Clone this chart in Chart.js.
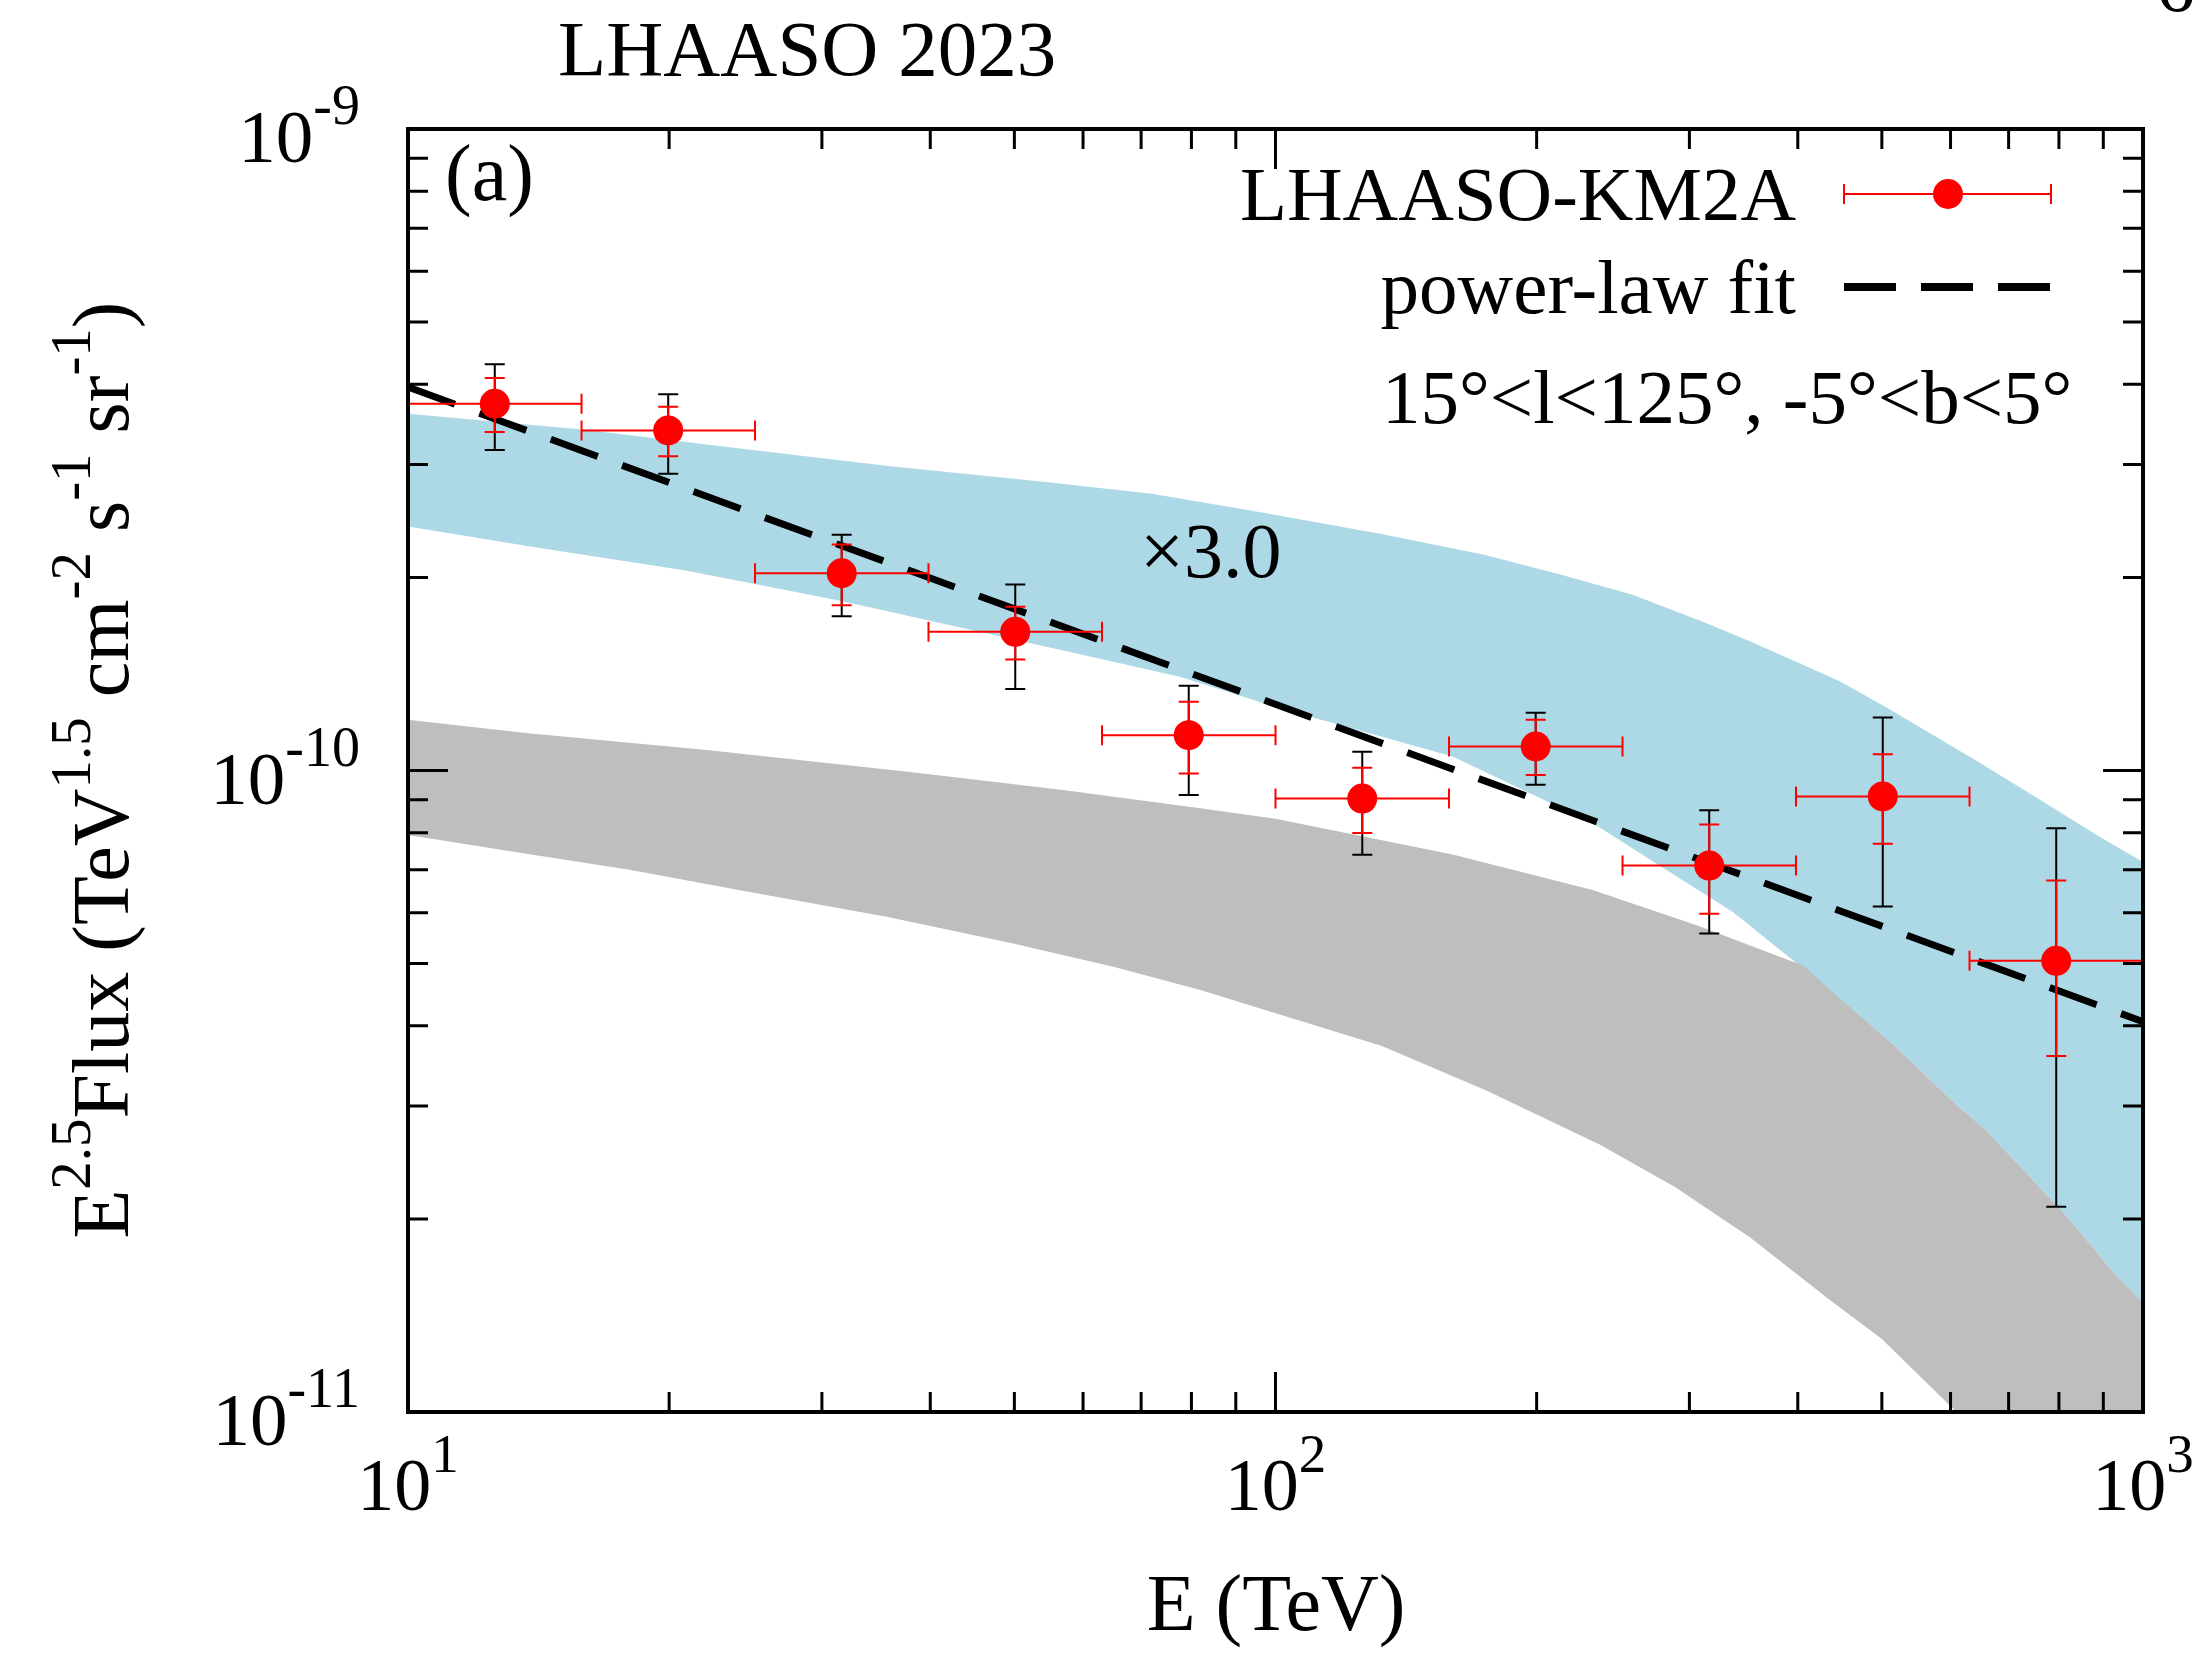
<!DOCTYPE html>
<html>
<head>
<meta charset="utf-8">
<script src="https://cdn.jsdelivr.net/npm/chart.js@4.4.1/dist/chart.umd.min.js"></script>
<style>
  html, body { margin: 0; padding: 0; background: #ffffff; }
  #wrap { width: 2203px; height: 1656px; position: relative; }
</style>
</head>
<body>
<div id="wrap"><canvas id="c" width="2203" height="1656"></canvas></div>
<script>
// ---- LHAASO-KM2A diffuse emission, E^2.5 weighted flux ----
const E_CENTER = [12.59, 19.95, 31.62, 50.12, 79.43, 125.9, 199.5, 316.2, 501.2, 794.3];
const BIN_LO   = [10.0, 15.85, 25.12, 39.81, 63.10, 100.0, 158.5, 251.2, 398.1, 631.0];
const BIN_HI   = [15.85, 25.12, 39.81, 63.10, 100.0, 158.5, 251.2, 398.1, 631.0, 1000.0];
const FLUX     = [3.73e-10, 3.39e-10, 2.03e-10, 1.645e-10, 1.135e-10, 9.04e-11, 1.09e-10, 7.11e-11, 9.11e-11, 5.05e-11];
const STAT_LO  = [3.37e-10, 3.09e-10, 1.81e-10, 1.49e-10, 9.89e-11, 7.99e-11, 9.84e-11, 5.98e-11, 7.69e-11, 3.59e-11];
const STAT_HI  = [4.09e-10, 3.69e-10, 2.25e-10, 1.80e-10, 1.28e-10, 1.01e-10, 1.20e-10, 8.24e-11, 1.06e-10, 6.74e-11];
const TOT_LO   = [3.16e-10, 2.90e-10, 1.74e-10, 1.34e-10, 9.16e-11, 7.39e-11, 9.50e-11, 5.57e-11, 6.14e-11, 2.09e-11];
const TOT_HI   = [4.30e-10, 3.86e-10, 2.33e-10, 1.95e-10, 1.356e-10, 1.07e-10, 1.23e-10, 8.67e-11, 1.21e-10, 8.13e-11];

// power-law fit end points
const FIT_E = [10, 1000];
const FIT_F = [3.96e-10, 4.06e-11];

// model band scaled by x3.0 (light blue)
const BLUE_E_UP = [10, 15.9, 24, 36, 54, 72, 94, 132, 174, 213, 258, 313, 356, 446, 508, 647, 751, 889, 1000];
const BLUE_UP   = [3.60e-10, 3.40e-10, 3.18e-10, 2.98e-10, 2.82e-10, 2.70e-10, 2.54e-10, 2.34e-10, 2.17e-10, 2.02e-10,
                   1.88e-10, 1.70e-10, 1.58e-10, 1.38e-10, 1.25e-10, 1.03e-10, 9.1e-11, 7.9e-11, 7.2e-11];
const BLUE_E_LO = [10, 13.95, 20.9, 31.4, 47.1, 77.6, 100, 160, 232, 280, 337, 421, 517.6, 602, 659, 710, 811, 926, 1000];
const BLUE_LO   = [2.40e-10, 2.23e-10, 2.05e-10, 1.84e-10, 1.63e-10, 1.40e-10, 1.256e-10, 1.052e-10, 8.28e-11, 7.05e-11,
                   6.01e-11, 4.72e-11, 3.72e-11, 3.06e-11, 2.75e-11, 2.47e-11, 2.04e-11, 1.645e-11, 1.48e-11];

// unscaled model band (grey)
const GRAY_E_UP = [10, 13.75, 22.1, 37.9, 56.9, 81.9, 100, 160, 232, 307, 406, 445.5, 517.6, 602, 659, 710, 811, 926, 1000];
const GRAY_UP   = [1.20e-10, 1.143e-10, 1.076e-10, 9.95e-11, 9.32e-11, 8.73e-11, 8.41e-11, 7.40e-11, 6.51e-11, 5.73e-11,
                   4.96e-11, 4.43e-11, 3.72e-11, 3.06e-11, 2.75e-11, 2.47e-11, 2.04e-11, 1.645e-11, 1.48e-11];
const GRAY_E_LO = [10, 13.75, 18, 25.3, 35.5, 49.7, 65.2, 81.9, 132.6, 175, 236.7, 289, 352.5, 434, 500, 596, 1000];
const GRAY_LO   = [7.93e-11, 7.41e-11, 7.0e-11, 6.43e-11, 5.92e-11, 5.38e-11, 4.94e-11, 4.55e-11, 3.72e-11, 3.17e-11,
                   2.61e-11, 2.24e-11, 1.87e-11, 1.50e-11, 1.30e-11, 1.03e-11, 5.3e-12];

// axis tick labels (mantissa, exponent)
const X_TICKS = [[10, '1'], [100, '2'], [1000, '3']];
const Y_TICKS = [[1e-9, '-9'], [1e-10, '-10'], [1e-11, '-11']];

const SERIF = "'Liberation Serif', 'Times New Roman', serif";
const pts = (xa, ya) => xa.map((x, i) => ({ x: x, y: ya[i] }));
const NOLINE = 'rgba(0,0,0,0)';

// draws a run of text pieces, some raised as superscripts
function richText(ctx, parts, x, y, align) {
  let total = 0;
  for (const p of parts) { ctx.font = p.size + 'px ' + SERIF; p.w = ctx.measureText(p.t).width; total += p.w; }
  let cx = align === 'center' ? x - total / 2 : align === 'right' ? x - total : x;
  ctx.textAlign = 'left';
  ctx.textBaseline = 'alphabetic';
  for (const p of parts) {
    ctx.font = p.size + 'px ' + SERIF;
    ctx.fillText(p.t, cx, y - (p.raise || 0));
    cx += p.w;
  }
}

const decor = {
  id: 'decor',
  beforeDatasetDraw(chart, args) {
    if (args.index !== 0) return;
    const ctx = chart.ctx, xs = chart.scales.x, ys = chart.scales.y;
    const cap = 10;
    ctx.save();
    ctx.lineWidth = 2;
    ctx.lineCap = 'butt';
    for (let i = 0; i < E_CENTER.length; i++) {
      const x = xs.getPixelForValue(E_CENTER[i]);
      const y = ys.getPixelForValue(FLUX[i]);
      // total uncertainty (black)
      const t1 = ys.getPixelForValue(TOT_HI[i]), t2 = ys.getPixelForValue(TOT_LO[i]);
      ctx.strokeStyle = '#000000';
      ctx.beginPath();
      ctx.moveTo(x, t1); ctx.lineTo(x, t2);
      ctx.moveTo(x - cap, t1); ctx.lineTo(x + cap, t1);
      ctx.moveTo(x - cap, t2); ctx.lineTo(x + cap, t2);
      ctx.stroke();
      // statistical uncertainty and energy bin (red)
      const s1 = ys.getPixelForValue(STAT_HI[i]), s2 = ys.getPixelForValue(STAT_LO[i]);
      const b1 = xs.getPixelForValue(BIN_LO[i]), b2 = xs.getPixelForValue(BIN_HI[i]);
      ctx.strokeStyle = '#ff0000';
      ctx.beginPath();
      ctx.moveTo(x, s1); ctx.lineTo(x, s2);
      ctx.moveTo(x - cap, s1); ctx.lineTo(x + cap, s1);
      ctx.moveTo(x - cap, s2); ctx.lineTo(x + cap, s2);
      ctx.moveTo(b1, y); ctx.lineTo(b2, y);
      ctx.moveTo(b1, y - cap); ctx.lineTo(b1, y + cap);
      ctx.moveTo(b2, y - cap); ctx.lineTo(b2, y + cap);
      ctx.stroke();
    }
    ctx.restore();
  },
  afterDatasetsDraw(chart) {
    const ctx = chart.ctx, xs = chart.scales.x, ys = chart.scales.y, a = chart.chartArea;
    ctx.save();
    // tick marks on all four sides, pointing inwards
    ctx.strokeStyle = '#000000';
    ctx.lineWidth = 3;
    ctx.beginPath();
    for (let d = 10; d <= 1000; d *= 10) {
      for (let m = 1; m <= 9; m++) {
        const v = m * d;
        if (v > 1000) break;
        const len = m === 1 ? 40 : 20;
        const px = xs.getPixelForValue(v);
        ctx.moveTo(px, a.bottom); ctx.lineTo(px, a.bottom - len);
        ctx.moveTo(px, a.top); ctx.lineTo(px, a.top + len);
      }
    }
    for (let e = -11; e <= -9; e++) {
      for (let m = 1; m <= 9; m++) {
        const v = m * Math.pow(10, e);
        if (e === -9 && m > 1) break;
        const len = m === 1 ? 40 : 20;
        const py = ys.getPixelForValue(v);
        ctx.moveTo(a.left, py); ctx.lineTo(a.left + len, py);
        ctx.moveTo(a.right, py); ctx.lineTo(a.right - len, py);
      }
    }
    ctx.stroke();
    // frame
    ctx.lineWidth = 4;
    ctx.strokeRect(a.left, a.top, a.right - a.left, a.bottom - a.top);
    ctx.restore();
  },
  afterDraw(chart) {
    const ctx = chart.ctx, xs = chart.scales.x, ys = chart.scales.y;
    ctx.save();
    ctx.fillStyle = '#000000';
    // tick labels
    for (const [v, ex] of X_TICKS) {
      richText(ctx, [{ t: '10', size: 74 }, { t: ex, size: 55, raise: 38 }], xs.getPixelForValue(v), 1510, 'center');
    }
    for (const [v, ex] of Y_TICKS) {
      const py = ys.getPixelForValue(v);
      richText(ctx, [{ t: '10', size: 75 }, { t: ex, size: 56, raise: 38 }], 360, py + 33, 'right');
    }
    // axis titles
    ctx.font = '80px ' + SERIF;
    ctx.textAlign = 'center';
    ctx.fillText('E (TeV)', 1276, 1630);
    ctx.save();
    ctx.translate(128, 770);
    ctx.rotate(-Math.PI / 2);
    richText(ctx, [
      { t: 'E', size: 80 }, { t: '2.5', size: 57, raise: 38 },
      { t: 'Flux (TeV', size: 80 }, { t: '1.5', size: 57, raise: 38 },
      { t: ' cm', size: 80 }, { t: '-2', size: 57, raise: 38 },
      { t: ' s', size: 80 }, { t: '-1', size: 57, raise: 38 },
      { t: ' sr', size: 80 }, { t: '-1', size: 57, raise: 38 },
      { t: ')', size: 80 }
    ], 0, 0, 'center');
    ctx.restore();
    // headline and panel labels
    ctx.textAlign = 'left';
    ctx.font = '79px ' + SERIF;
    ctx.fillText('LHAASO 2023', 558, 75);
    ctx.font = '80px ' + SERIF;
    ctx.fillText('(a)', 445, 200);
    ctx.font = '78px ' + SERIF;
    ctx.fillText('\u00d73.0', 1140, 577);
    ctx.fillText('6', 2156, 11);
    // key
    ctx.font = '77px ' + SERIF;
    ctx.textAlign = 'right';
    ctx.fillText('LHAASO-KM2A', 1796, 220);
    ctx.fillText('power-law fit', 1796, 313);
    ctx.textAlign = 'left';
    ctx.fillText('15\u00b0<l<125\u00b0, -5\u00b0<b<5\u00b0', 1382, 423);
    ctx.strokeStyle = '#ff0000';
    ctx.lineWidth = 2;
    ctx.beginPath();
    ctx.moveTo(1844, 194); ctx.lineTo(2051, 194);
    ctx.moveTo(1844, 184); ctx.lineTo(1844, 204);
    ctx.moveTo(2051, 184); ctx.lineTo(2051, 204);
    ctx.stroke();
    ctx.fillStyle = '#ff0000';
    ctx.beginPath();
    ctx.arc(1948, 194, 15, 0, Math.PI * 2);
    ctx.fill();
    ctx.strokeStyle = '#000000';
    ctx.lineWidth = 8;
    ctx.setLineDash([52, 25]);
    ctx.beginPath();
    ctx.moveTo(1844, 287); ctx.lineTo(2051, 287);
    ctx.stroke();
    ctx.restore();
  }
};

new Chart(document.getElementById('c'), {
  type: 'line',
  data: {
    datasets: [
      { label: 'LHAASO-KM2A', data: pts(E_CENTER, FLUX), showLine: false,
        pointRadius: 15, pointHoverRadius: 15, pointBackgroundColor: '#ff0000', pointBorderWidth: 0,
        pointBorderColor: '#ff0000', borderColor: NOLINE, borderWidth: 0, fill: false },
      { label: 'power-law fit', data: pts(FIT_E, FIT_F), borderColor: '#000000', borderWidth: 7,
        borderDash: [50, 26], borderCapStyle: 'butt', pointRadius: 0, fill: false },
      { label: 'grey upper', data: pts(GRAY_E_UP, GRAY_UP), borderColor: NOLINE, borderWidth: 0,
        pointRadius: 0, backgroundColor: '#bebebe', fill: 3 },
      { label: 'grey lower', data: pts(GRAY_E_LO, GRAY_LO), borderColor: NOLINE, borderWidth: 0,
        pointRadius: 0, fill: false },
      { label: 'blue upper', data: pts(BLUE_E_UP, BLUE_UP), borderColor: NOLINE, borderWidth: 0,
        pointRadius: 0, backgroundColor: '#add8e6', fill: 5 },
      { label: 'blue lower', data: pts(BLUE_E_LO, BLUE_LO), borderColor: NOLINE, borderWidth: 0,
        pointRadius: 0, fill: false }
    ]
  },
  options: {
    responsive: false,
    animation: false,
    devicePixelRatio: 1,
    events: [],
    layout: { padding: { left: 408, top: 129, right: 60, bottom: 244 } },
    scales: {
      x: { type: 'logarithmic', min: 10, max: 1000, display: false },
      y: { type: 'logarithmic', min: 1e-11, max: 1e-9, display: false }
    },
    plugins: {
      legend: { display: false },
      tooltip: { enabled: false },
      filler: { propagate: false }
    }
  },
  plugins: [decor]
});
</script>
</body>
</html>
